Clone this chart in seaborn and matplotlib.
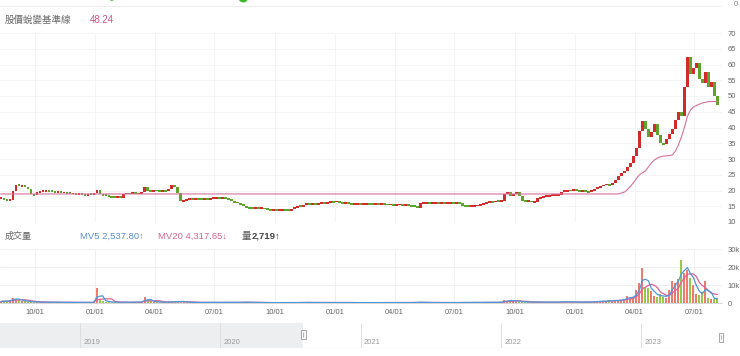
import numpy as np
import pandas as pd
import matplotlib
matplotlib.use('Agg')
import matplotlib.pyplot as plt
import matplotlib.dates as mdates
from matplotlib.patches import Rectangle
import seaborn as sns

# price closes (one value every ~3 px, Aug 2020 -> Aug 2023)
closes = [
    17.5, 17.2, 16.9, 17.0, 20.0, 21.8, 21.5, 21.6, 21.2, 20.6,
    18.8, 18.6, 19.5, 19.7, 19.9, 20.0, 19.8, 19.6, 19.4, 19.5,
    19.3, 19.4, 19.2, 19.0, 19.1, 18.9, 19.0, 18.7, 18.6, 18.8,
    18.7, 19.2, 20.2, 18.8, 18.6, 18.5, 18.2, 17.9, 17.8, 17.9,
    17.7, 19.0, 19.1, 19.0, 19.2, 19.0, 19.1, 19.4, 21.2, 20.0,
    19.8, 20.1, 19.9, 19.7, 20.0, 19.8, 20.6, 21.7, 21.0, 19.2,
    16.6, 16.8, 17.2, 17.3, 17.2, 17.4, 17.3, 17.2, 17.4, 17.3,
    17.5, 17.6, 17.8, 17.5, 17.7, 17.6, 17.2, 16.6, 16.3, 16.1,
    15.6, 15.0, 14.6, 14.5, 14.4, 14.5, 14.3, 14.4, 14.2, 13.9,
    13.8, 13.9, 13.7, 13.8, 13.9, 13.8, 13.7, 14.0, 14.8, 15.0,
    14.9, 15.5, 15.7, 15.6, 15.9, 15.7, 15.8, 16.0, 15.8, 16.3,
    16.5, 16.4, 16.6, 16.3, 16.0, 16.1, 15.9, 15.7, 15.8, 15.9,
    15.7, 15.8, 15.9, 15.8, 15.6, 15.8, 15.7, 15.8, 15.6, 15.5,
    15.6, 15.4, 15.5, 15.6, 15.4, 15.5, 15.3, 15.1, 14.8, 14.5,
    15.9, 16.0, 16.1, 15.9, 16.0, 16.2, 16.0, 16.1, 15.9, 16.0,
    16.1, 15.9, 16.2, 16.0, 15.2, 15.0, 14.9, 15.0, 15.2, 15.3,
    15.6, 16.0, 16.3, 16.5, 16.4, 16.6, 16.5, 16.7, 19.0, 19.6,
    18.2, 18.9, 19.4, 18.4, 16.8, 16.5, 16.6, 16.4, 16.5, 17.6,
    17.9, 18.0, 18.3, 18.4, 18.5, 18.6, 18.7, 19.6, 19.8, 20.1,
    19.9, 20.2, 20.0, 19.8, 20.1, 19.7, 19.6, 19.9, 20.4, 21.0,
    21.4, 21.8, 22.0, 21.7, 22.4, 23.2, 24.6, 25.5, 26.3, 27.5,
    28.8, 31.0, 33.5, 39.0, 42.0, 39.5, 37.0, 38.5, 41.0, 37.5,
    35.0, 34.8, 36.5, 38.0, 39.5, 42.5, 45.0, 43.5, 53.0, 62.5,
    57.0, 59.0, 60.5, 55.5, 54.0, 57.5, 53.0, 54.5, 50.0, 47.0,
]

# 股價蛻變基準線 (pink step line)
baseline = [18.9] * 207 + [
    19.2, 19.5, 20.3, 21.3, 22.5, 23.8, 25.0, 25.6, 26.2, 27.5,
    28.8, 29.7, 30.3, 30.7, 30.9, 31.0, 31.1, 31.3, 32.5, 34.5,
    37.0, 40.0, 43.5, 45.5, 46.5, 47.0, 47.4, 47.8, 48.0, 48.2,
    48.24, 48.24, 48.24,
]

# volume in thousands
volume = [
    0.8, 1.2, 0.9, 1.6, 2.6, 2.2, 1.8, 1.3, 1.0, 0.8,
    0.7, 0.5, 0.6, 0.5, 0.4, 0.5, 0.4, 0.4, 0.5, 0.4,
    0.4, 0.3, 0.4, 0.3, 0.4, 0.3, 0.3, 0.4, 0.3, 0.3,
    0.3, 0.5, 8.6, 2.2, 1.2, 0.8, 0.6, 0.5, 0.4, 0.4,
    0.4, 0.5, 0.4, 0.4, 0.5, 0.6, 0.4, 0.5, 3.2, 1.6,
    1.0, 0.7, 0.6, 0.5, 0.5, 0.4, 0.6, 0.8, 0.6, 0.9,
    1.0, 0.6, 0.4, 0.4, 0.3, 0.3, 0.4, 0.3, 0.3, 0.3,
    0.3, 0.3, 0.4, 0.3, 0.3, 0.3, 0.4, 0.3, 0.4, 0.3,
    0.4, 0.5, 0.4, 0.3, 0.3, 0.3, 0.2, 0.3, 0.2, 0.2,
    0.2, 0.2, 0.3, 0.2, 0.2, 0.2, 0.3, 0.2, 0.2, 0.3,
    0.3, 0.4, 0.3, 0.3, 0.2, 0.3, 0.3, 0.2, 0.3, 0.3,
    0.3, 0.2, 0.3, 0.3, 0.2, 0.2, 0.3, 0.2, 0.2, 0.2,
    0.2, 0.2, 0.3, 0.2, 0.2, 0.2, 0.2, 0.3, 0.2, 0.2,
    0.2, 0.2, 0.2, 0.3, 0.2, 0.2, 0.2, 0.3, 0.4, 0.5,
    0.4, 0.3, 0.2, 0.2, 0.3, 0.2, 0.2, 0.2, 0.3, 0.2,
    0.2, 0.2, 0.3, 0.2, 0.4, 0.3, 0.3, 0.2, 0.3, 0.3,
    0.3, 0.4, 0.4, 0.3, 0.4, 0.3, 0.4, 0.5, 1.6, 1.3,
    1.2, 1.5, 1.0, 0.7, 0.6, 0.6, 0.5, 0.5, 0.6, 0.5,
    0.5, 0.4, 0.5, 0.4, 0.5, 0.4, 0.6, 0.8, 0.6, 0.5,
    0.6, 0.5, 0.4, 0.5, 0.5, 0.6, 0.5, 0.6, 0.8, 1.0,
    0.9, 1.2, 1.0, 1.4, 1.2, 1.6, 1.5, 1.8, 2.2, 4.0,
    2.6, 3.2, 7.5, 11.0, 19.5, 9.0, 8.5, 6.8, 4.0, 3.4,
    5.0, 3.2, 3.0, 7.0, 12.0, 11.0, 13.5, 24.0, 16.5, 18.5,
    14.0, 10.0, 5.0, 4.5, 6.0, 12.0, 3.0, 2.5, 2.0, 2.7,
]

dates = pd.date_range('2020-08-10', '2023-08-05', periods=len(closes))
tick_dates = pd.date_range('2020-10-01', '2023-07-01', freq='QS')
nav_years = [2019, 2020, 2021, 2022, 2023]
nav_range = ('2018-06-07', '2023-07-31')
nav_sel = ('2020-08-05', '2023-07-28')
top_marks = ['2021-01-26', '2021-08-14']

RED = '#d22b2b'
GREEN = '#5fa22c'
PINK = '#d8709c'
BLUE = '#4f97d6'

sns.set_theme(style='white')
plt.rcParams['font.family'] = ['Liberation Sans', 'Noto Sans CJK TC', 'DejaVu Sans']

fig = plt.figure(figsize=(7.4, 3.56), dpi=100)


def box(l, t, r, b):
    return [l / 740, 1 - b / 356, (r - l) / 740, (b - t) / 356]


xlo = mdates.date2num(pd.Timestamp('2020-08-09'))
xhi = mdates.date2num(pd.Timestamp('2023-08-12'))
xd = mdates.date2num(dates)

c = np.array(closes)
o = np.r_[c[0], c[:-1]]
up = c >= o
colors = np.where(up, RED, GREEN)

# top strip (bottom edge of the chart above)
axt = fig.add_axes(box(0, 0, 722, 7))
axt.set_xlim(xlo, xhi)
axt.set_ylim(0, 1)
axt.scatter(mdates.date2num(pd.to_datetime(top_marks)), [1.25, 1.35], s=[14, 50],
            color='#3cb82a', clip_on=True, lw=0)
axt.axhline(0.15, color='#eeeeee', lw=0.8)
axt.axis('off')
fig.text(736 / 740, 1 - 5 / 356, '0', fontsize=5.5, color='#888888', ha='center', va='center')

# headers
fig.text(5 / 740, 1 - 20 / 356, '股價蛻變基準線', fontsize=6.8, color='#666666', va='center')
fig.text(90 / 740, 1 - 20 / 356, '48.24', fontsize=7, color='#c9568a', va='center')

# price panel, candle bodies from previous close to close
ax = fig.add_axes(box(0, 33, 722, 222))
body = np.maximum(np.abs(c - o), 0.6)
mid = (c + o) / 2
ax.bar(xd, body, bottom=mid - body / 2, width=3.4, color=colors, lw=0)
sns.lineplot(x=xd, y=baseline, ax=ax, color=PINK, lw=0.8)
ax.set_xlim(xlo, xhi)
ax.set_ylim(10, 70)
ax.set_yticks(range(10, 71, 5))
ax.yaxis.tick_right()
ax.set_xticks(mdates.date2num(tick_dates))
ax.set_xticklabels([])
ax.tick_params(length=0, labelsize=5.5, labelcolor='#666666', pad=4)
ax.grid(True, color='#f3f3f3', lw=0.6)
ax.set_xlabel('')
ax.set_ylabel('')
for s in ax.spines.values():
    s.set_visible(False)

# volume header
hy = 1 - 236 / 356
fig.text(5 / 740, hy, '成交量', fontsize=6.5, color='#666666', va='center')
fig.text(80 / 740, hy, 'MV5 2,537.80↑', fontsize=6.8, color='#5b8fd0', va='center')
fig.text(158 / 740, hy, 'MV20 4,317.65↓', fontsize=6.8, color='#d4668e', va='center')
fig.text(242 / 740, hy, '量', fontsize=6.8, color='#555555', va='center')
fig.text(252 / 740, hy, '2,719↑', fontsize=6.8, color='#444444', va='center', fontweight='bold')

# volume panel
axv = fig.add_axes(box(0, 249, 722, 303))
v = np.array(volume)
axv.bar(xd, v, width=3.0, color=np.where(up, '#ef7b6f', '#94c94a'), lw=0)
mv5 = pd.Series(v).rolling(3, min_periods=1).mean()
mv20 = pd.Series(v).rolling(6, min_periods=1).mean()
sns.lineplot(x=xd, y=mv20.values, ax=axv, color='#e0609a', lw=0.9)
sns.lineplot(x=xd, y=mv5.values, ax=axv, color=BLUE, lw=0.9)
axv.set_xlim(xlo, xhi)
axv.set_ylim(0, 30)
axv.set_yticks([0, 10, 20, 30])
axv.set_yticklabels(['0', '10k', '20k', '30k'])
axv.yaxis.tick_right()
axv.set_xticks(mdates.date2num(tick_dates))
axv.set_xticklabels([d.strftime('%m/%d') for d in tick_dates])
axv.tick_params(length=0, labelsize=5.5, labelcolor='#666666', pad=4)
axv.grid(True, color='#eeeeee', lw=0.6)
axv.set_xlabel('')
axv.set_ylabel('')
for s in axv.spines.values():
    s.set_visible(False)
axv.spines['bottom'].set_visible(True)
axv.spines['bottom'].set_color('#d0d0d0')
axv.spines['bottom'].set_linewidth(0.6)

# navigator
axn = fig.add_axes(box(0, 323, 722, 348))
n0, n1 = mdates.date2num(pd.Timestamp(nav_range[0])), mdates.date2num(pd.Timestamp(nav_range[1]))
s0, s1 = mdates.date2num(pd.Timestamp(nav_sel[0])), mdates.date2num(pd.Timestamp(nav_sel[1]))
axn.set_xlim(n0, n1)
axn.set_ylim(0, 1)
axn.axvspan(n0, s0, color='#eceef0', lw=0)
for yr in nav_years:
    d = mdates.date2num(pd.Timestamp(f'{yr}-01-01'))
    axn.axvline(d, color='#dcdcdc', lw=0.6)
    axn.text(d + 9, 0.2, str(yr), fontsize=5.5, color='#999999', va='center')
axn.hlines(0.02, s0, s1, color='#cfcfcf', lw=0.8)
for d, yc in [(s0, 0.54), (s1, 0.44)]:
    axn.add_patch(Rectangle((d - 6, yc - 0.18), 12, 0.36, facecolor='#f7f7f7',
                            edgecolor='#9a9a9a', lw=0.6, clip_on=False))
    axn.vlines(d, yc - 0.09, yc + 0.09, color='#9a9a9a', lw=0.5)
axn.axis('off')

fig.savefig('out.png', dpi=100)
